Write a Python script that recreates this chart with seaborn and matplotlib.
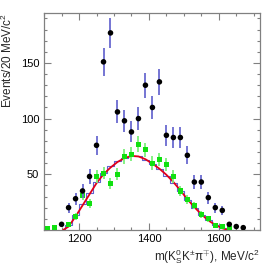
import numpy as np
import pandas as pd
import seaborn as sns
import matplotlib
matplotlib.use("Agg")
import matplotlib.pyplot as plt
from matplotlib.ticker import MultipleLocator

# ---- data (MeV/c^2, events / 20 MeV) ----
data_m = [1150, 1170, 1190, 1210, 1230, 1250, 1270, 1290, 1310, 1330, 1350, 1370, 1390,
          1410, 1430, 1450, 1470, 1490, 1510, 1530, 1550, 1570, 1590, 1610, 1630, 1650, 1670]
data_n = [5, 20, 28, 35, 48, 76, 151, 177, 106, 98, 88, 100, 130,
          110, 133, 85, 83, 83, 67, 43, 43, 29, 20, 17.5, 5, 3, 2]
data_err = [2.3, 4.5, 5.3, 5.9, 6.9, 8.7, 12.3, 13.3, 10.3, 9.9, 9.4, 10, 11.4,
            10.5, 11.5, 9.2, 9.1, 9.1, 8.2, 6.6, 6.6, 5.4, 4.5, 4.2, 2.2, 1.7, 1.4]

mc_m = [1110, 1130, 1170, 1190, 1210, 1230, 1250, 1270, 1290, 1310, 1330, 1350, 1370,
        1390, 1410, 1430, 1450, 1470, 1490, 1510, 1530, 1550, 1570, 1590, 1610, 1630]
mc_n = [1.5, 2, 5, 12, 31, 24, 48, 51, 42, 50, 66, 68, 77,
        72, 60, 63.5, 58.5, 48, 35, 27, 22, 14, 10, 4, 3, 1.5]
mc_err = [1, 1.2, 1.8, 3, 4.5, 4, 5.5, 5.5, 5, 5.5, 6.5, 6.5, 7,
          6.5, 6, 6, 6, 5.5, 4.5, 4, 3.5, 3, 2.5, 1.5, 1.3, 1]

fit_m = [1155, 1170, 1190, 1210, 1230, 1250, 1270, 1290, 1310, 1330, 1350, 1370, 1390,
         1410, 1430, 1450, 1470, 1490, 1510, 1530, 1550, 1570, 1590, 1610, 1625]
fit_n = [0, 3, 12, 22, 32, 42, 50, 56, 61, 64.5, 66.5, 66, 63.5,
         59.5, 55, 49.5, 43, 35.5, 27.5, 20.5, 14, 8.5, 4.5, 1.5, 0]

hist_m = [1150, 1170, 1190, 1210, 1230, 1250, 1270, 1290, 1310, 1330, 1350, 1370, 1390,
          1410, 1430, 1450, 1470, 1490, 1510, 1530, 1550, 1570, 1590, 1610, 1630]
hist_n = [0, 4, 13, 23, 33, 43, 51, 57, 62, 65, 66.5, 66, 63,
          59, 54.5, 48.5, 42, 34.5, 27, 20, 13.5, 8.5, 4.5, 1.5, 0]

df_data = pd.DataFrame({"m": data_m, "n": data_n})
df_mc = pd.DataFrame({"m": mc_m, "n": mc_n})
df_fit = pd.DataFrame({"m": fit_m, "n": fit_n})

sns.set_style("ticks")
plt.rcParams["font.family"] = ["Liberation Sans", "DejaVu Sans"]
plt.rcParams["mathtext.fontset"] = "custom"
plt.rcParams["mathtext.rm"] = "Liberation Sans"
plt.rcParams["mathtext.it"] = "Liberation Sans"

fig = plt.figure(figsize=(2.74, 2.74), dpi=100)
ax = fig.add_axes([0.161, 0.161, 0.788, 0.792])

# blue step histogram under the fit
ax.step(hist_m, hist_n, where="mid", color="#6060d0", lw=0.8, zorder=2)
sns.lineplot(data=df_fit, x="m", y="n", color="#e0001a", lw=1.3, ax=ax, zorder=3)

# green points (MC)
ax.errorbar(mc_m, mc_n, yerr=mc_err, fmt="none", ecolor="#7cf07c", elinewidth=1.3, zorder=4)
sns.scatterplot(data=df_mc, x="m", y="n", marker="s", s=14, color="#10e010",
                edgecolor="none", ax=ax, zorder=5)

# black points (data)
ax.errorbar(data_m, data_n, yerr=data_err, fmt="none", ecolor="#6a6ad0", elinewidth=1.3, zorder=6)
sns.scatterplot(data=df_data, x="m", y="n", marker="o", s=16, color="black",
                edgecolor="none", ax=ax, zorder=7)

ax.set_xlim(1100, 1718)
ax.set_ylim(0, 195)
ax.xaxis.set_major_locator(MultipleLocator(200))
ax.xaxis.set_minor_locator(MultipleLocator(50))
ax.yaxis.set_major_locator(MultipleLocator(50))
ax.yaxis.set_minor_locator(MultipleLocator(10))
ax.set_yticks([50, 100, 150])
ax.tick_params(which="both", direction="in", top=True, right=True, colors="#808080",
               labelcolor="black", labelsize=8, width=0.8)
ax.tick_params(which="major", length=5)
ax.tick_params(which="minor", length=2.5)
ax.tick_params(axis="x", pad=3)
for sp in ax.spines.values():
    sp.set_color("#808080")
    sp.set_linewidth(0.9)

ax.set_xlabel(r"m(K$^0_S$K$^{\pm}\pi^{\mp}$), MeV/c$^2$", fontsize=8.5, loc="right", labelpad=2)
ax.set_ylabel(r"Events/20 MeV/c$^2$", fontsize=8.5, loc="top", labelpad=4)

fig.savefig("out.png", dpi=100)
